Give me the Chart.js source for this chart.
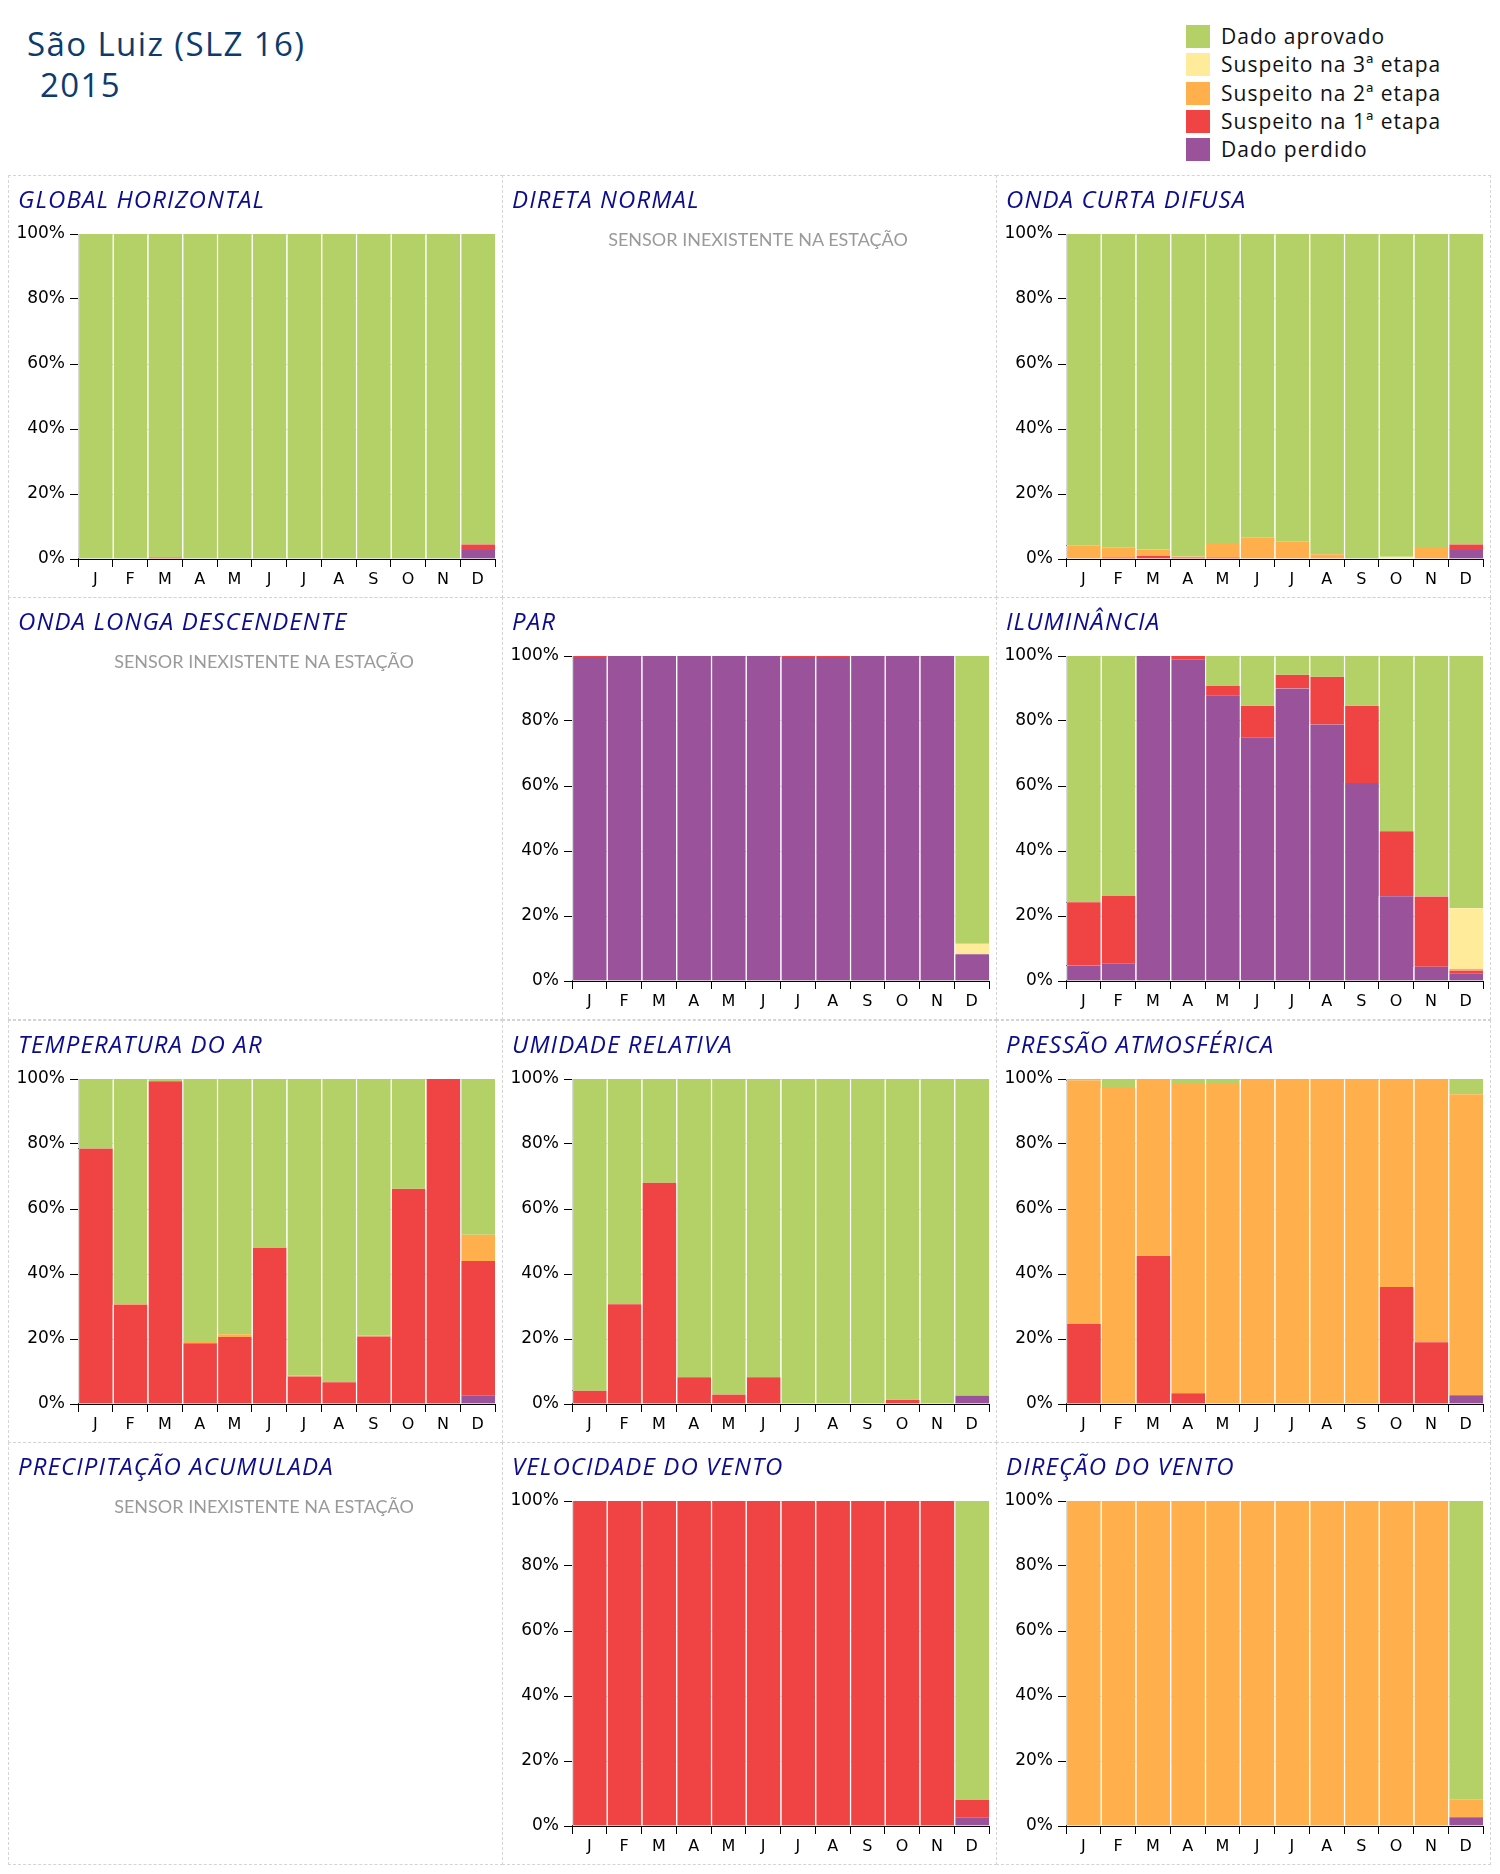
<!DOCTYPE html>
<html lang="pt-BR">
<head>
<meta charset="utf-8">
<title>São Luiz (SLZ 16) 2015</title>
<script src="https://cdn.jsdelivr.net/npm/chart.js@4.4.1/dist/chart.umd.min.js"></script>
<style>
    body { margin: 0; width: 1500px; height: 1874px; background: #fff; position: relative; font-family: "Open Sans", "Noto Sans", sans-serif; }
    .titulo { position: absolute; color: #0d3b6e; font-size: 33px; line-height: 40px; letter-spacing: 1.4px; white-space: pre; }
    #legenda { position: absolute; left: 1186px; top: 25px; }
    .item { position: relative; height: 28.3px; }
    .item span.cor { position: absolute; left: 0; top: 0; width: 24px; height: 23px; }
    .item span.txt { position: absolute; left: 35px; top: -3px; font-size: 21px; line-height: 28px; color: #111; letter-spacing: 1px; white-space: nowrap; }
    .painel { position: absolute; box-sizing: border-box; border: 1px dashed #d4d4d4; }
    .painel h2 { position: absolute; left: 9px; top: 6px; margin: 0; font-size: 24px; font-weight: normal; font-style: italic; letter-spacing: 1.1px; color: #0c0c8c; white-space: nowrap; }
    .painel canvas { position: absolute; left: -1px; top: -1px; }
    .painel .sem { position: absolute; left: 17px; right: 0; top: 52px; text-align: center; font-family: Lato, sans-serif; font-size: 18px; color: #9a9a9a; }
</style>
</head>
<body>
<div class="titulo" style="left:27px; top:24px;">São Luiz (SLZ 16)</div>
<div class="titulo" style="left:30px; top:65px;"> 2015</div>
<div id="legenda"></div>

<script>
const meses = ['J', 'F', 'M', 'A', 'M', 'J', 'J', 'A', 'S', 'O', 'N', 'D'];
const categorias = ['Dado aprovado', 'Suspeito na 3ª etapa', 'Suspeito na 2ª etapa', 'Suspeito na 1ª etapa', 'Dado perdido'];
const cores = ['#b3d166', '#ffeb99', '#ffb04c', '#f04444', '#9a539a'];
const semSensor = 'SENSOR INEXISTENTE NA ESTAÇÃO';

// Global horizontal
const ghPerdido  = [0, 0, 0, 0, 0, 0, 0, 0, 0, 0, 0, 2.8];
const ghSusp1    = [0, 0, 0.5, 0, 0, 0, 0, 0, 0, 0, 0, 1.7];
const ghSusp2    = [0, 0, 0, 0, 0, 0, 0, 0, 0, 0, 0, 0];
const ghSusp3    = [0, 0, 0, 0, 0, 0, 0, 0, 0, 0, 0, 0];
const ghAprovado = [100, 100, 99.5, 100, 100, 100, 100, 100, 100, 100, 100, 95.5];

// Onda curta difusa
const ocPerdido  = [0, 0, 0, 0, 0, 0, 0, 0, 0, 0, 0, 2.8];
const ocSusp1    = [0, 0.5, 0.9, 0.5, 0.5, 0, 0, 0, 0, 0, 0, 1.7];
const ocSusp2    = [4.2, 3.1, 2.0, 0.3, 4.1, 6.7, 5.5, 1.5, 0, 0, 3.4, 0];
const ocSusp3    = [0, 0, 0, 0, 0, 0, 0, 0, 0, 0.7, 0, 0];
const ocAprovado = [95.8, 96.4, 97.1, 99.2, 95.4, 93.3, 94.5, 98.5, 100, 99.3, 96.6, 95.5];

// PAR
const parPerdido  = [99.7, 100, 100, 100, 100, 100, 99.7, 99.7, 100, 100, 100, 8.2];
const parSusp1    = [0.3, 0, 0, 0, 0, 0, 0.3, 0.3, 0, 0, 0, 0];
const parSusp2    = [0, 0, 0, 0, 0, 0, 0, 0, 0, 0, 0, 0];
const parSusp3    = [0, 0, 0, 0, 0, 0, 0, 0, 0, 0, 0, 3.3];
const parAprovado = [0, 0, 0, 0, 0, 0, 0, 0, 0, 0, 0, 88.5];

// Iluminância
const ilPerdido  = [4.8, 5.5, 100, 99.0, 87.9, 75.0, 90.0, 78.9, 60.9, 26.1, 4.4, 2.4];
const ilSusp1    = [19.4, 20.8, 0, 1.0, 2.9, 9.7, 4.2, 14.7, 23.8, 20.0, 21.6, 0.8];
const ilSusp2    = [0, 0, 0, 0, 0, 0, 0, 0, 0, 0, 0, 0.6];
const ilSusp3    = [0, 0, 0, 0, 0, 0, 0, 0, 0, 0, 0, 18.6];
const ilAprovado = [75.8, 73.7, 0, 0, 9.2, 15.3, 5.8, 6.4, 15.3, 53.9, 74.0, 77.6];

// Temperatura do ar
const taPerdido  = [0, 0, 0, 0, 0, 0, 0, 0, 0, 0, 0, 2.7];
const taSusp1    = [78.6, 30.6, 99.3, 18.7, 20.6, 48.0, 8.5, 6.7, 20.8, 66.2, 100, 41.3];
const taSusp2    = [0, 0.5, 0, 0.4, 0.9, 0.3, 0.2, 0, 0.2, 0, 0, 8.1];
const taSusp3    = [0, 0, 0, 0, 0, 0, 0, 0, 0, 0, 0, 0];
const taAprovado = [21.4, 68.9, 0.7, 80.9, 78.5, 51.7, 91.3, 93.3, 79.0, 33.8, 0, 47.9];

// Umidade relativa
const urPerdido  = [0, 0, 0, 0, 0, 0, 0, 0, 0, 0, 0, 2.6];
const urSusp1    = [4.1, 30.7, 68.1, 8.2, 2.9, 8.2, 0, 0, 0, 1.3, 0, 0];
const urSusp2    = [0, 0, 0, 0, 0, 0, 0, 0, 0, 0, 0, 0];
const urSusp3    = [0, 0, 0, 0, 0, 0, 0, 0, 0, 0, 0, 0];
const urAprovado = [95.9, 69.3, 31.9, 91.8, 97.1, 91.8, 100, 100, 100, 98.7, 100, 97.4];

// Pressão atmosférica
const paPerdido  = [0, 0, 0, 0, 0, 0, 0, 0, 0, 0, 0, 2.7];
const paSusp1    = [24.6, 0, 45.6, 3.3, 0, 0, 0, 0, 0, 36.0, 19.0, 0];
const paSusp2    = [75.0, 97.2, 54.4, 95.2, 98.8, 100, 100, 100, 100, 64.0, 81.0, 92.6];
const paSusp3    = [0, 0, 0, 0, 0, 0, 0, 0, 0, 0, 0, 0];
const paAprovado = [0.4, 2.8, 0, 1.5, 1.2, 0, 0, 0, 0, 0, 0, 4.7];

// Velocidade do vento
const vvPerdido  = [0, 0, 0, 0, 0, 0, 0, 0, 0, 0, 0, 2.7];
const vvSusp1    = [100, 100, 100, 100, 100, 100, 100, 100, 100, 100, 100, 5.3];
const vvSusp2    = [0, 0, 0, 0, 0, 0, 0, 0, 0, 0, 0, 0];
const vvSusp3    = [0, 0, 0, 0, 0, 0, 0, 0, 0, 0, 0, 0];
const vvAprovado = [0, 0, 0, 0, 0, 0, 0, 0, 0, 0, 0, 92.0];

// Direção do vento
const dvPerdido  = [0, 0, 0, 0, 0, 0, 0, 0, 0, 0, 0, 2.7];
const dvSusp1    = [0, 0, 0, 0, 0, 0, 0, 0, 0, 0, 0, 0];
const dvSusp2    = [100, 100, 100, 100, 100, 100, 100, 100, 100, 100, 100, 5.5];
const dvSusp3    = [0, 0, 0, 0, 0, 0, 0, 0, 0, 0, 0, 0];
const dvAprovado = [0, 0, 0, 0, 0, 0, 0, 0, 0, 0, 0, 91.8];

// painéis na ordem da grade (3 colunas x 4 linhas); null = sensor inexistente
const paineis = [
    ['GLOBAL HORIZONTAL', [ghAprovado, ghSusp3, ghSusp2, ghSusp1, ghPerdido]],
    ['DIRETA NORMAL', null],
    ['ONDA CURTA DIFUSA', [ocAprovado, ocSusp3, ocSusp2, ocSusp1, ocPerdido]],
    ['ONDA LONGA DESCENDENTE', null],
    ['PAR', [parAprovado, parSusp3, parSusp2, parSusp1, parPerdido]],
    ['ILUMINÂNCIA', [ilAprovado, ilSusp3, ilSusp2, ilSusp1, ilPerdido]],
    ['TEMPERATURA DO AR', [taAprovado, taSusp3, taSusp2, taSusp1, taPerdido]],
    ['UMIDADE RELATIVA', [urAprovado, urSusp3, urSusp2, urSusp1, urPerdido]],
    ['PRESSÃO ATMOSFÉRICA', [paAprovado, paSusp3, paSusp2, paSusp1, paPerdido]],
    ['PRECIPITAÇÃO ACUMULADA', null],
    ['VELOCIDADE DO VENTO', [vvAprovado, vvSusp3, vvSusp2, vvSusp1, vvPerdido]],
    ['DIREÇÃO DO VENTO', [dvAprovado, dvSusp3, dvSusp2, dvSusp1, dvPerdido]]
];

const colX = [8, 502, 996];
const rowY = [175, 597, 1020, 1442];
const larg = 495, alt = 423;

// legenda
const leg = document.getElementById('legenda');
categorias.forEach((nome, i) => {
    const d = document.createElement('div');
    d.className = 'item';
    d.innerHTML = '<span class="cor" style="background:' + cores[i] + '"></span><span class="txt">' + nome + '</span>';
    leg.appendChild(d);
});

function criarGrafico(canvas, series) {
    // empilhar de baixo para cima: perdido, 1ª, 2ª, 3ª, aprovado
    const datasets = [];
    for (let i = series.length - 1; i >= 0; i--) {
        datasets.push({
            label: categorias[i],
            data: series[i],
            backgroundColor: cores[i],
            borderColor: 'rgba(255,255,255,0.85)',
            borderWidth: { left: 1.5, right: 0, top: 0, bottom: 0 },
            borderSkipped: false,
            categoryPercentage: 1,
            barPercentage: 1
        });
    }

    new Chart(canvas.getContext('2d'), {
        type: 'bar',
        data: { labels: meses, datasets: datasets },
        options: {
            responsive: false,
            animation: false,
            layout: { padding: { top: 59, right: 8, bottom: 0, left: 0 } },
            plugins: { legend: { display: false }, tooltip: { enabled: false } },
            scales: {
                x: {
                    stacked: true,
                    grid: { drawOnChartArea: false, tickColor: '#000', tickLength: 8 },
                    border: { color: '#000' },
                    ticks: { color: '#000', padding: 3, font: { family: 'DejaVu Sans', size: 16 } },
                    afterFit: (s) => { s.height = 39; }
                },
                y: {
                    stacked: true,
                    min: 0,
                    max: 100,
                    z: 1,
                    grid: {
                        color: (c) => c.tick && c.tick.value === 0 ? '#000' : '#8a8a8a',
                        tickColor: '#000',
                        tickLength: 8
                    },
                    border: { color: '#000' },
                    ticks: {
                        stepSize: 20,
                        color: '#000',
                        padding: 5,
                        font: { family: 'DejaVu Sans', size: 17 },
                        callback: (v) => v + '%'
                    },
                    afterFit: (s) => { s.width = 70; }
                }
            }
        }
    });
}

paineis.forEach((p, i) => {
    const div = document.createElement('div');
    div.className = 'painel';
    div.style.left = colX[i % 3] + 'px';
    div.style.top = rowY[Math.floor(i / 3)] + 'px';
    div.style.width = larg + 'px';
    div.style.height = alt + 'px';

    if (p[1]) {
        const cv = document.createElement('canvas');
        cv.width = larg;
        cv.height = alt;
        div.appendChild(cv);
        document.body.appendChild(div);
        criarGrafico(cv, p[1]);
    } else {
        const s = document.createElement('div');
        s.className = 'sem';
        s.textContent = semSensor;
        div.appendChild(s);
        document.body.appendChild(div);
    }

    const h = document.createElement('h2');
    h.textContent = p[0];
    div.appendChild(h);
});
</script>
</body>
</html>
